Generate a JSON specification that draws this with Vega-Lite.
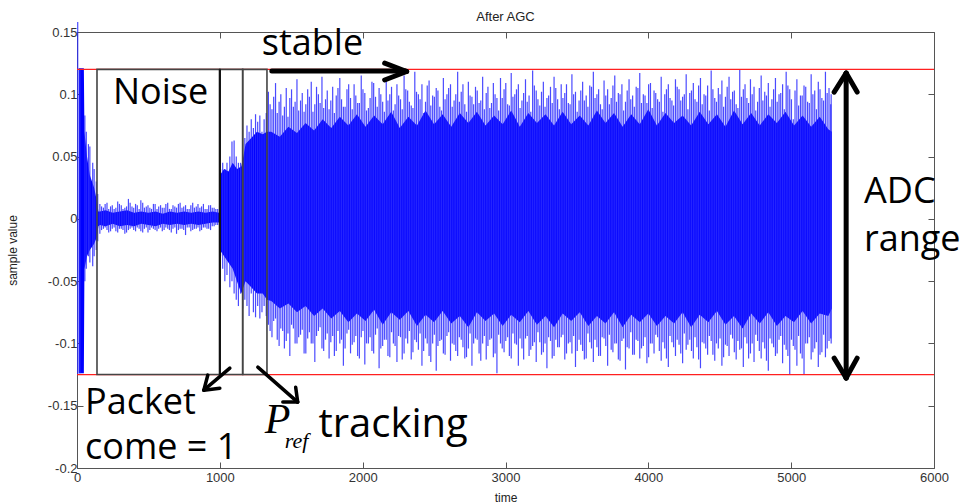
{
  "$schema": "https://vega.github.io/schema/vega-lite/v6.json",
  "width": 857,
  "height": 436,
  "autosize": {"type": "none"},
  "padding": {"left": 77, "top": 32, "right": 33, "bottom": 36},
  "background": "white",
  "title": {"text": "After AGC", "fontSize": 13, "font": "Liberation Sans", "fontWeight": "normal", "color": "#222222", "offset": -3},
  "config": {
    "view": {"stroke": null},
    "axis": {"grid": false, "labelFont": "Liberation Sans", "labelFontSize": 13, "labelColor": "#333333", "titleFont": "Liberation Sans", "titleFontSize": 12, "titleFontWeight": "normal", "titleColor": "#222222", "domainColor": "#555555", "tickColor": "#555555", "labelFlush": false, "labelOverlap": false}
  },
  "datasets": {
    "core": [
      {"t": 12, "hi": 0.121, "lo": -0.124}, {"t": 48, "hi": 0.121, "lo": -0.124},
      {"t": 52, "hi": 0.07, "lo": -0.04}, {"t": 70, "hi": 0.05, "lo": -0.03},
      {"t": 90, "hi": 0.035, "lo": -0.025}, {"t": 120, "hi": 0.025, "lo": -0.02},
      {"t": 138, "hi": 0.015, "lo": -0.015}, {"t": 150, "hi": 0.006, "lo": -0.006},
      {"t": 160, "hi": 0.006, "lo": -0.005}, {"t": 200, "hi": 0.007, "lo": -0.006},
      {"t": 250, "hi": 0.005, "lo": -0.004}, {"t": 300, "hi": 0.006, "lo": -0.006},
      {"t": 350, "hi": 0.007, "lo": -0.005}, {"t": 400, "hi": 0.005, "lo": -0.006},
      {"t": 450, "hi": 0.006, "lo": -0.004}, {"t": 500, "hi": 0.005, "lo": -0.005},
      {"t": 550, "hi": 0.006, "lo": -0.006}, {"t": 600, "hi": 0.004, "lo": -0.004},
      {"t": 650, "hi": 0.006, "lo": -0.005}, {"t": 700, "hi": 0.005, "lo": -0.004},
      {"t": 750, "hi": 0.006, "lo": -0.005}, {"t": 800, "hi": 0.005, "lo": -0.004},
      {"t": 850, "hi": 0.006, "lo": -0.005}, {"t": 900, "hi": 0.005, "lo": -0.004},
      {"t": 950, "hi": 0.006, "lo": -0.003}, {"t": 995, "hi": 0.005, "lo": -0.003},
      {"t": 1000, "hi": 0.035, "lo": -0.025}, {"t": 1030, "hi": 0.04, "lo": -0.03},
      {"t": 1060, "hi": 0.038, "lo": -0.035}, {"t": 1090, "hi": 0.045, "lo": -0.04},
      {"t": 1120, "hi": 0.04, "lo": -0.05}, {"t": 1150, "hi": 0.042, "lo": -0.06},
      {"t": 1165, "hi": 0.05, "lo": -0.055}, {"t": 1180, "hi": 0.06, "lo": -0.05},
      {"t": 1220, "hi": 0.065, "lo": -0.055}, {"t": 1260, "hi": 0.07, "lo": -0.06},
      {"t": 1300, "hi": 0.068, "lo": -0.06}, {"t": 1330, "hi": 0.07, "lo": -0.065},
      {"t": 1360, "hi": 0.07, "lo": -0.066}, {"t": 1420, "hi": 0.066, "lo": -0.072},
      {"t": 1480, "hi": 0.074, "lo": -0.068}, {"t": 1540, "hi": 0.069, "lo": -0.075},
      {"t": 1600, "hi": 0.077, "lo": -0.07}, {"t": 1660, "hi": 0.071, "lo": -0.078},
      {"t": 1720, "hi": 0.08, "lo": -0.072}, {"t": 1780, "hi": 0.073, "lo": -0.08},
      {"t": 1840, "hi": 0.082, "lo": -0.074}, {"t": 1900, "hi": 0.075, "lo": -0.083},
      {"t": 1960, "hi": 0.084, "lo": -0.076}, {"t": 2020, "hi": 0.074, "lo": -0.082},
      {"t": 2080, "hi": 0.083, "lo": -0.073}, {"t": 2140, "hi": 0.076, "lo": -0.085},
      {"t": 2200, "hi": 0.086, "lo": -0.075}, {"t": 2260, "hi": 0.073, "lo": -0.081},
      {"t": 2320, "hi": 0.082, "lo": -0.074}, {"t": 2380, "hi": 0.075, "lo": -0.086},
      {"t": 2440, "hi": 0.087, "lo": -0.077}, {"t": 2500, "hi": 0.076, "lo": -0.083},
      {"t": 2560, "hi": 0.084, "lo": -0.074}, {"t": 2620, "hi": 0.074, "lo": -0.084},
      {"t": 2680, "hi": 0.085, "lo": -0.078}, {"t": 2740, "hi": 0.077, "lo": -0.087},
      {"t": 2800, "hi": 0.086, "lo": -0.075}, {"t": 2860, "hi": 0.075, "lo": -0.082},
      {"t": 2920, "hi": 0.083, "lo": -0.076}, {"t": 2980, "hi": 0.076, "lo": -0.086},
      {"t": 3040, "hi": 0.087, "lo": -0.077}, {"t": 3100, "hi": 0.074, "lo": -0.083},
      {"t": 3160, "hi": 0.085, "lo": -0.074}, {"t": 3220, "hi": 0.077, "lo": -0.085},
      {"t": 3280, "hi": 0.084, "lo": -0.078}, {"t": 3340, "hi": 0.075, "lo": -0.087},
      {"t": 3400, "hi": 0.086, "lo": -0.076}, {"t": 3460, "hi": 0.076, "lo": -0.082},
      {"t": 3520, "hi": 0.083, "lo": -0.075}, {"t": 3580, "hi": 0.075, "lo": -0.086},
      {"t": 3640, "hi": 0.087, "lo": -0.078}, {"t": 3700, "hi": 0.077, "lo": -0.084},
      {"t": 3760, "hi": 0.085, "lo": -0.075}, {"t": 3820, "hi": 0.074, "lo": -0.087},
      {"t": 3880, "hi": 0.084, "lo": -0.077}, {"t": 3940, "hi": 0.076, "lo": -0.083},
      {"t": 4000, "hi": 0.088, "lo": -0.076}, {"t": 4060, "hi": 0.075, "lo": -0.086},
      {"t": 4120, "hi": 0.085, "lo": -0.078}, {"t": 4180, "hi": 0.077, "lo": -0.084},
      {"t": 4240, "hi": 0.083, "lo": -0.075}, {"t": 4300, "hi": 0.075, "lo": -0.087},
      {"t": 4360, "hi": 0.086, "lo": -0.077}, {"t": 4420, "hi": 0.076, "lo": -0.083},
      {"t": 4480, "hi": 0.084, "lo": -0.074}, {"t": 4540, "hi": 0.074, "lo": -0.085},
      {"t": 4600, "hi": 0.087, "lo": -0.078}, {"t": 4660, "hi": 0.076, "lo": -0.088},
      {"t": 4720, "hi": 0.085, "lo": -0.076}, {"t": 4780, "hi": 0.075, "lo": -0.084},
      {"t": 4840, "hi": 0.084, "lo": -0.075}, {"t": 4900, "hi": 0.077, "lo": -0.086},
      {"t": 4960, "hi": 0.086, "lo": -0.078}, {"t": 5020, "hi": 0.075, "lo": -0.083},
      {"t": 5080, "hi": 0.083, "lo": -0.074}, {"t": 5140, "hi": 0.074, "lo": -0.084},
      {"t": 5200, "hi": 0.082, "lo": -0.076}, {"t": 5260, "hi": 0.072, "lo": -0.078},
      {"t": 5285, "hi": 0.07, "lo": -0.072}
    ],
    "spikes": [
      {"t": 5, "hi": 0.158, "lo": -0.125}, {"t": 20, "hi": 0.121, "lo": -0.124},
      {"t": 55, "hi": 0.083, "lo": -0.05}, {"t": 65, "hi": 0.07, "lo": -0.04},
      {"t": 80, "hi": 0.06, "lo": -0.03}, {"t": 90, "hi": 0.058, "lo": -0.035},
      {"t": 110, "hi": 0.045, "lo": -0.038}, {"t": 120, "hi": 0.04, "lo": -0.03},
      {"t": 135, "hi": 0.03, "lo": -0.025}, {"t": 145, "hi": 0.02, "lo": -0.018},
      {"t": 160, "hi": 0.012, "lo": -0.012}, {"t": 185, "hi": 0.009, "lo": -0.008},
      {"t": 210, "hi": 0.013, "lo": -0.009}, {"t": 235, "hi": 0.01, "lo": -0.01},
      {"t": 260, "hi": 0.008, "lo": -0.007}, {"t": 285, "hi": 0.014, "lo": -0.011},
      {"t": 310, "hi": 0.011, "lo": -0.008}, {"t": 335, "hi": 0.009, "lo": -0.012},
      {"t": 360, "hi": 0.016, "lo": -0.009}, {"t": 385, "hi": 0.01, "lo": -0.007},
      {"t": 410, "hi": 0.012, "lo": -0.01}, {"t": 435, "hi": 0.008, "lo": -0.008},
      {"t": 460, "hi": 0.013, "lo": -0.011}, {"t": 485, "hi": 0.01, "lo": -0.007},
      {"t": 510, "hi": 0.009, "lo": -0.009}, {"t": 535, "hi": 0.012, "lo": -0.008},
      {"t": 560, "hi": 0.008, "lo": -0.01}, {"t": 585, "hi": 0.011, "lo": -0.007},
      {"t": 610, "hi": 0.009, "lo": -0.009}, {"t": 635, "hi": 0.013, "lo": -0.008},
      {"t": 660, "hi": 0.008, "lo": -0.011}, {"t": 685, "hi": 0.01, "lo": -0.007},
      {"t": 710, "hi": 0.012, "lo": -0.009}, {"t": 735, "hi": 0.009, "lo": -0.008},
      {"t": 760, "hi": 0.011, "lo": -0.013}, {"t": 785, "hi": 0.008, "lo": -0.007},
      {"t": 810, "hi": 0.013, "lo": -0.009}, {"t": 835, "hi": 0.01, "lo": -0.008},
      {"t": 860, "hi": 0.009, "lo": -0.01}, {"t": 885, "hi": 0.012, "lo": -0.007},
      {"t": 910, "hi": 0.008, "lo": -0.008}, {"t": 935, "hi": 0.011, "lo": -0.009},
      {"t": 960, "hi": 0.009, "lo": -0.006}, {"t": 985, "hi": 0.008, "lo": -0.005},
      {"t": 172, "hi": 0.01, "lo": -0.009}, {"t": 197, "hi": 0.012, "lo": -0.007},
      {"t": 222, "hi": 0.008, "lo": -0.011}, {"t": 247, "hi": 0.011, "lo": -0.008},
      {"t": 272, "hi": 0.009, "lo": -0.01}, {"t": 297, "hi": 0.012, "lo": -0.008},
      {"t": 322, "hi": 0.008, "lo": -0.009}, {"t": 347, "hi": 0.01, "lo": -0.011},
      {"t": 372, "hi": 0.013, "lo": -0.008}, {"t": 397, "hi": 0.009, "lo": -0.009},
      {"t": 422, "hi": 0.011, "lo": -0.007}, {"t": 447, "hi": 0.015, "lo": -0.01},
      {"t": 472, "hi": 0.009, "lo": -0.008}, {"t": 497, "hi": 0.011, "lo": -0.011},
      {"t": 522, "hi": 0.008, "lo": -0.007}, {"t": 547, "hi": 0.012, "lo": -0.009},
      {"t": 572, "hi": 0.01, "lo": -0.008}, {"t": 597, "hi": 0.009, "lo": -0.01},
      {"t": 622, "hi": 0.012, "lo": -0.007}, {"t": 647, "hi": 0.008, "lo": -0.009},
      {"t": 672, "hi": 0.011, "lo": -0.008}, {"t": 697, "hi": 0.009, "lo": -0.012},
      {"t": 722, "hi": 0.013, "lo": -0.008}, {"t": 747, "hi": 0.01, "lo": -0.009},
      {"t": 772, "hi": 0.008, "lo": -0.007}, {"t": 797, "hi": 0.011, "lo": -0.01},
      {"t": 822, "hi": 0.009, "lo": -0.008}, {"t": 847, "hi": 0.012, "lo": -0.007},
      {"t": 872, "hi": 0.01, "lo": -0.009}, {"t": 897, "hi": 0.008, "lo": -0.007},
      {"t": 922, "hi": 0.011, "lo": -0.008}, {"t": 947, "hi": 0.009, "lo": -0.006},
      {"t": 972, "hi": 0.008, "lo": -0.005},
      {"t": 1005, "hi": 0.04, "lo": -0.03}, {"t": 1020, "hi": 0.045, "lo": -0.04},
      {"t": 1035, "hi": 0.04, "lo": -0.05}, {"t": 1050, "hi": 0.045, "lo": -0.045},
      {"t": 1070, "hi": 0.05, "lo": -0.055}, {"t": 1085, "hi": 0.062, "lo": -0.05},
      {"t": 1100, "hi": 0.063, "lo": -0.06}, {"t": 1115, "hi": 0.05, "lo": -0.065},
      {"t": 1130, "hi": 0.045, "lo": -0.07}, {"t": 1145, "hi": 0.045, "lo": -0.06},
      {"t": 1160, "hi": 0.05, "lo": -0.072}, {"t": 1175, "hi": 0.065, "lo": -0.065},
      {"t": 1190, "hi": 0.075, "lo": -0.07}, {"t": 1205, "hi": 0.07, "lo": -0.078},
      {"t": 1220, "hi": 0.08, "lo": -0.06}, {"t": 1235, "hi": 0.073, "lo": -0.075},
      {"t": 1250, "hi": 0.084, "lo": -0.079}, {"t": 1265, "hi": 0.078, "lo": -0.07},
      {"t": 1280, "hi": 0.083, "lo": -0.08}, {"t": 1295, "hi": 0.07, "lo": -0.075},
      {"t": 1310, "hi": 0.08, "lo": -0.07}, {"t": 1325, "hi": 0.085, "lo": -0.078},
      {"t": 1340, "hi": 0.102, "lo": -0.085}, {"t": 1365, "hi": 0.088, "lo": -0.095},
      {"t": 1390, "hi": 0.109, "lo": -0.08}, {"t": 1415, "hi": 0.094, "lo": -0.102},
      {"t": 1440, "hi": 0.083, "lo": -0.09}, {"t": 1465, "hi": 0.105, "lo": -0.098},
      {"t": 1490, "hi": 0.097, "lo": -0.11}, {"t": 1515, "hi": 0.09, "lo": -0.088},
      {"t": 1540, "hi": 0.112, "lo": -0.1}, {"t": 1565, "hi": 0.095, "lo": -0.093},
      {"t": 1590, "hi": 0.086, "lo": -0.108}, {"t": 1615, "hi": 0.104, "lo": -0.096},
      {"t": 1640, "hi": 0.11, "lo": -0.1}, {"t": 1665, "hi": 0.092, "lo": -0.115},
      {"t": 1690, "hi": 0.1, "lo": -0.09}, {"t": 1715, "hi": 0.114, "lo": -0.104},
      {"t": 1740, "hi": 0.096, "lo": -0.097}, {"t": 1765, "hi": 0.088, "lo": -0.112},
      {"t": 1790, "hi": 0.106, "lo": -0.094}, {"t": 1815, "hi": 0.099, "lo": -0.106},
      {"t": 1840, "hi": 0.113, "lo": -0.1}, {"t": 1865, "hi": 0.09, "lo": -0.118},
      {"t": 1890, "hi": 0.104, "lo": -0.092}, {"t": 1915, "hi": 0.097, "lo": -0.108},
      {"t": 1940, "hi": 0.108, "lo": -0.099}, {"t": 1965, "hi": 0.093, "lo": -0.11},
      {"t": 1990, "hi": 0.115, "lo": -0.095}, {"t": 2015, "hi": 0.101, "lo": -0.117},
      {"t": 2040, "hi": 0.089, "lo": -0.1}, {"t": 2065, "hi": 0.11, "lo": -0.106},
      {"t": 2090, "hi": 0.098, "lo": -0.093}, {"t": 2115, "hi": 0.105, "lo": -0.12},
      {"t": 2140, "hi": 0.094, "lo": -0.102}, {"t": 2165, "hi": 0.112, "lo": -0.097},
      {"t": 2190, "hi": 0.1, "lo": -0.111}, {"t": 2215, "hi": 0.087, "lo": -0.1},
      {"t": 2240, "hi": 0.108, "lo": -0.115}, {"t": 2265, "hi": 0.096, "lo": -0.095},
      {"t": 2290, "hi": 0.115, "lo": -0.108}, {"t": 2315, "hi": 0.103, "lo": -0.1},
      {"t": 2340, "hi": 0.091, "lo": -0.113}, {"t": 2365, "hi": 0.118, "lo": -0.097},
      {"t": 2390, "hi": 0.1, "lo": -0.105}, {"t": 2415, "hi": 0.108, "lo": -0.118},
      {"t": 2440, "hi": 0.094, "lo": -0.096}, {"t": 2465, "hi": 0.111, "lo": -0.11},
      {"t": 2490, "hi": 0.099, "lo": -0.1}, {"t": 2515, "hi": 0.105, "lo": -0.122},
      {"t": 2540, "hi": 0.09, "lo": -0.098}, {"t": 2565, "hi": 0.113, "lo": -0.108},
      {"t": 2590, "hi": 0.1, "lo": -0.094}, {"t": 2615, "hi": 0.108, "lo": -0.114},
      {"t": 2640, "hi": 0.095, "lo": -0.101}, {"t": 2665, "hi": 0.118, "lo": -0.11},
      {"t": 2690, "hi": 0.102, "lo": -0.097}, {"t": 2715, "hi": 0.092, "lo": -0.112},
      {"t": 2740, "hi": 0.11, "lo": -0.104}, {"t": 2765, "hi": 0.098, "lo": -0.118},
      {"t": 2790, "hi": 0.106, "lo": -0.096}, {"t": 2815, "hi": 0.093, "lo": -0.108},
      {"t": 2840, "hi": 0.114, "lo": -0.1}, {"t": 2865, "hi": 0.101, "lo": -0.113},
      {"t": 2890, "hi": 0.089, "lo": -0.097}, {"t": 2915, "hi": 0.109, "lo": -0.111},
      {"t": 2940, "hi": 0.097, "lo": -0.124}, {"t": 2965, "hi": 0.113, "lo": -0.1},
      {"t": 2990, "hi": 0.104, "lo": -0.107}, {"t": 3015, "hi": 0.092, "lo": -0.095},
      {"t": 3040, "hi": 0.117, "lo": -0.112}, {"t": 3065, "hi": 0.1, "lo": -0.1},
      {"t": 3090, "hi": 0.108, "lo": -0.118}, {"t": 3115, "hi": 0.095, "lo": -0.104},
      {"t": 3140, "hi": 0.112, "lo": -0.096}, {"t": 3165, "hi": 0.099, "lo": -0.11},
      {"t": 3190, "hi": 0.119, "lo": -0.102}, {"t": 3215, "hi": 0.103, "lo": -0.115},
      {"t": 3240, "hi": 0.091, "lo": -0.099}, {"t": 3265, "hi": 0.11, "lo": -0.107},
      {"t": 3290, "hi": 0.097, "lo": -0.12}, {"t": 3315, "hi": 0.106, "lo": -0.098},
      {"t": 3340, "hi": 0.114, "lo": -0.11}, {"t": 3365, "hi": 0.096, "lo": -0.103},
      {"t": 3390, "hi": 0.108, "lo": -0.095}, {"t": 3415, "hi": 0.101, "lo": -0.113},
      {"t": 3440, "hi": 0.093, "lo": -0.1}, {"t": 3465, "hi": 0.116, "lo": -0.108},
      {"t": 3490, "hi": 0.102, "lo": -0.119}, {"t": 3515, "hi": 0.095, "lo": -0.097},
      {"t": 3540, "hi": 0.11, "lo": -0.106}, {"t": 3565, "hi": 0.099, "lo": -0.112},
      {"t": 3590, "hi": 0.107, "lo": -0.099}, {"t": 3615, "hi": 0.118, "lo": -0.115},
      {"t": 3640, "hi": 0.1, "lo": -0.103}, {"t": 3665, "hi": 0.092, "lo": -0.11},
      {"t": 3690, "hi": 0.111, "lo": -0.096}, {"t": 3715, "hi": 0.104, "lo": -0.118},
      {"t": 3740, "hi": 0.097, "lo": -0.105}, {"t": 3765, "hi": 0.115, "lo": -0.1},
      {"t": 3790, "hi": 0.101, "lo": -0.113}, {"t": 3815, "hi": 0.108, "lo": -0.098},
      {"t": 3840, "hi": 0.094, "lo": -0.121}, {"t": 3865, "hi": 0.112, "lo": -0.104},
      {"t": 3890, "hi": 0.099, "lo": -0.109}, {"t": 3915, "hi": 0.106, "lo": -0.097},
      {"t": 3940, "hi": 0.117, "lo": -0.112}, {"t": 3965, "hi": 0.1, "lo": -0.102},
      {"t": 3990, "hi": 0.093, "lo": -0.116}, {"t": 4015, "hi": 0.109, "lo": -0.1},
      {"t": 4040, "hi": 0.103, "lo": -0.108}, {"t": 4065, "hi": 0.096, "lo": -0.095},
      {"t": 4090, "hi": 0.114, "lo": -0.114}, {"t": 4115, "hi": 0.1, "lo": -0.104},
      {"t": 4140, "hi": 0.108, "lo": -0.119}, {"t": 4165, "hi": 0.095, "lo": -0.099},
      {"t": 4190, "hi": 0.112, "lo": -0.11}, {"t": 4215, "hi": 0.104, "lo": -0.101},
      {"t": 4240, "hi": 0.098, "lo": -0.116}, {"t": 4265, "hi": 0.116, "lo": -0.105},
      {"t": 4290, "hi": 0.101, "lo": -0.097}, {"t": 4315, "hi": 0.109, "lo": -0.112},
      {"t": 4340, "hi": 0.094, "lo": -0.103}, {"t": 4365, "hi": 0.113, "lo": -0.12},
      {"t": 4390, "hi": 0.1, "lo": -0.1}, {"t": 4415, "hi": 0.107, "lo": -0.109},
      {"t": 4440, "hi": 0.119, "lo": -0.098}, {"t": 4465, "hi": 0.097, "lo": -0.114},
      {"t": 4490, "hi": 0.105, "lo": -0.104}, {"t": 4515, "hi": 0.111, "lo": -0.118},
      {"t": 4540, "hi": 0.098, "lo": -0.101}, {"t": 4565, "hi": 0.114, "lo": -0.11},
      {"t": 4590, "hi": 0.102, "lo": -0.096}, {"t": 4615, "hi": 0.092, "lo": -0.113},
      {"t": 4640, "hi": 0.12, "lo": -0.105}, {"t": 4665, "hi": 0.104, "lo": -0.119},
      {"t": 4690, "hi": 0.097, "lo": -0.1}, {"t": 4715, "hi": 0.112, "lo": -0.108},
      {"t": 4740, "hi": 0.106, "lo": -0.115}, {"t": 4765, "hi": 0.094, "lo": -0.098},
      {"t": 4790, "hi": 0.115, "lo": -0.112}, {"t": 4815, "hi": 0.102, "lo": -0.104},
      {"t": 4840, "hi": 0.109, "lo": -0.122}, {"t": 4865, "hi": 0.096, "lo": -0.1},
      {"t": 4890, "hi": 0.113, "lo": -0.11}, {"t": 4915, "hi": 0.1, "lo": -0.097},
      {"t": 4940, "hi": 0.108, "lo": -0.116}, {"t": 4965, "hi": 0.118, "lo": -0.105},
      {"t": 4990, "hi": 0.104, "lo": -0.125}, {"t": 5015, "hi": 0.08, "lo": -0.102},
      {"t": 5040, "hi": 0.112, "lo": -0.118}, {"t": 5065, "hi": 0.099, "lo": -0.108},
      {"t": 5090, "hi": 0.107, "lo": -0.125}, {"t": 5115, "hi": 0.094, "lo": -0.1},
      {"t": 5140, "hi": 0.116, "lo": -0.113}, {"t": 5165, "hi": 0.103, "lo": -0.104},
      {"t": 5190, "hi": 0.11, "lo": -0.119}, {"t": 5215, "hi": 0.097, "lo": -0.107},
      {"t": 5240, "hi": 0.118, "lo": -0.111}, {"t": 5265, "hi": 0.105, "lo": -0.098},
      {"t": 5280, "hi": 0.1, "lo": -0.1},
      {"t": 1352, "hi": 0.092, "lo": -0.09}, {"t": 1377, "hi": 0.098, "lo": -0.082},
      {"t": 1402, "hi": 0.085, "lo": -0.097}, {"t": 1427, "hi": 0.1, "lo": -0.088},
      {"t": 1452, "hi": 0.09, "lo": -0.104}, {"t": 1477, "hi": 0.082, "lo": -0.092},
      {"t": 1502, "hi": 0.104, "lo": -0.085}, {"t": 1527, "hi": 0.094, "lo": -0.1},
      {"t": 1552, "hi": 0.087, "lo": -0.095}, {"t": 1577, "hi": 0.101, "lo": -0.089},
      {"t": 1602, "hi": 0.092, "lo": -0.108}, {"t": 1627, "hi": 0.098, "lo": -0.091},
      {"t": 1652, "hi": 0.086, "lo": -0.1}, {"t": 1677, "hi": 0.106, "lo": -0.094},
      {"t": 1702, "hi": 0.093, "lo": -0.087}, {"t": 1727, "hi": 0.089, "lo": -0.106},
      {"t": 1752, "hi": 0.103, "lo": -0.092}, {"t": 1777, "hi": 0.095, "lo": -0.099},
      {"t": 1802, "hi": 0.085, "lo": -0.11}, {"t": 1827, "hi": 0.105, "lo": -0.09},
      {"t": 1852, "hi": 0.096, "lo": -0.097}, {"t": 1877, "hi": 0.09, "lo": -0.104},
      {"t": 1902, "hi": 0.108, "lo": -0.089}, {"t": 1927, "hi": 0.088, "lo": -0.101},
      {"t": 1952, "hi": 0.099, "lo": -0.094}, {"t": 1977, "hi": 0.093, "lo": -0.112},
      {"t": 2002, "hi": 0.104, "lo": -0.09}, {"t": 2027, "hi": 0.087, "lo": -0.1},
      {"t": 2052, "hi": 0.097, "lo": -0.095}, {"t": 2077, "hi": 0.109, "lo": -0.108},
      {"t": 2102, "hi": 0.09, "lo": -0.088}, {"t": 2127, "hi": 0.1, "lo": -0.104},
      {"t": 2152, "hi": 0.086, "lo": -0.097}, {"t": 2177, "hi": 0.095, "lo": -0.11},
      {"t": 2202, "hi": 0.106, "lo": -0.091}, {"t": 2227, "hi": 0.092, "lo": -0.102},
      {"t": 2252, "hi": 0.099, "lo": -0.094}, {"t": 2277, "hi": 0.088, "lo": -0.113},
      {"t": 2302, "hi": 0.104, "lo": -0.096}, {"t": 2327, "hi": 0.094, "lo": -0.09},
      {"t": 2352, "hi": 0.089, "lo": -0.107}, {"t": 2377, "hi": 0.102, "lo": -0.099},
      {"t": 2402, "hi": 0.096, "lo": -0.092}, {"t": 2427, "hi": 0.085, "lo": -0.106},
      {"t": 2452, "hi": 0.107, "lo": -0.1}, {"t": 2477, "hi": 0.091, "lo": -0.115},
      {"t": 2502, "hi": 0.098, "lo": -0.093}, {"t": 2527, "hi": 0.103, "lo": -0.102},
      {"t": 2552, "hi": 0.087, "lo": -0.097}, {"t": 2577, "hi": 0.096, "lo": -0.109},
      {"t": 2602, "hi": 0.105, "lo": -0.091}, {"t": 2627, "hi": 0.09, "lo": -0.1},
      {"t": 2652, "hi": 0.1, "lo": -0.106}, {"t": 2677, "hi": 0.094, "lo": -0.095},
      {"t": 2702, "hi": 0.108, "lo": -0.103}, {"t": 2727, "hi": 0.086, "lo": -0.111},
      {"t": 2752, "hi": 0.099, "lo": -0.092}, {"t": 2777, "hi": 0.092, "lo": -0.1},
      {"t": 2802, "hi": 0.103, "lo": -0.097}, {"t": 2827, "hi": 0.095, "lo": -0.114},
      {"t": 2852, "hi": 0.088, "lo": -0.094}, {"t": 2877, "hi": 0.106, "lo": -0.102},
      {"t": 2902, "hi": 0.093, "lo": -0.096}, {"t": 2927, "hi": 0.1, "lo": -0.108},
      {"t": 2952, "hi": 0.087, "lo": -0.093}, {"t": 2977, "hi": 0.097, "lo": -0.104},
      {"t": 3002, "hi": 0.109, "lo": -0.098}, {"t": 3027, "hi": 0.091, "lo": -0.11},
      {"t": 3052, "hi": 0.098, "lo": -0.092}, {"t": 3077, "hi": 0.104, "lo": -0.101},
      {"t": 3102, "hi": 0.089, "lo": -0.096}, {"t": 3127, "hi": 0.101, "lo": -0.113},
      {"t": 3152, "hi": 0.094, "lo": -0.094}, {"t": 3177, "hi": 0.086, "lo": -0.105},
      {"t": 3202, "hi": 0.107, "lo": -0.099}, {"t": 3227, "hi": 0.096, "lo": -0.091},
      {"t": 3252, "hi": 0.102, "lo": -0.109}, {"t": 3277, "hi": 0.09, "lo": -0.1},
      {"t": 3302, "hi": 0.099, "lo": -0.095}, {"t": 3327, "hi": 0.093, "lo": -0.112},
      {"t": 3352, "hi": 0.105, "lo": -0.097}, {"t": 3377, "hi": 0.088, "lo": -0.103},
      {"t": 3402, "hi": 0.097, "lo": -0.093}, {"t": 3427, "hi": 0.108, "lo": -0.108},
      {"t": 3452, "hi": 0.092, "lo": -0.099}, {"t": 3477, "hi": 0.1, "lo": -0.094},
      {"t": 3502, "hi": 0.086, "lo": -0.106}, {"t": 3527, "hi": 0.103, "lo": -0.101},
      {"t": 3552, "hi": 0.095, "lo": -0.113}, {"t": 3577, "hi": 0.09, "lo": -0.092},
      {"t": 3602, "hi": 0.106, "lo": -0.104}, {"t": 3627, "hi": 0.097, "lo": -0.097},
      {"t": 3652, "hi": 0.104, "lo": -0.11}, {"t": 3677, "hi": 0.088, "lo": -0.095},
      {"t": 3702, "hi": 0.099, "lo": -0.102}, {"t": 3727, "hi": 0.092, "lo": -0.093},
      {"t": 3752, "hi": 0.107, "lo": -0.107}, {"t": 3777, "hi": 0.094, "lo": -0.1},
      {"t": 3802, "hi": 0.1, "lo": -0.114}, {"t": 3827, "hi": 0.087, "lo": -0.096},
      {"t": 3852, "hi": 0.103, "lo": -0.103}, {"t": 3877, "hi": 0.096, "lo": -0.091},
      {"t": 3902, "hi": 0.09, "lo": -0.109}, {"t": 3927, "hi": 0.105, "lo": -0.098},
      {"t": 3952, "hi": 0.093, "lo": -0.104}, {"t": 3977, "hi": 0.099, "lo": -0.095},
      {"t": 4002, "hi": 0.108, "lo": -0.111}, {"t": 4027, "hi": 0.089, "lo": -0.1},
      {"t": 4052, "hi": 0.101, "lo": -0.093}, {"t": 4077, "hi": 0.094, "lo": -0.106},
      {"t": 4102, "hi": 0.086, "lo": -0.099}, {"t": 4127, "hi": 0.104, "lo": -0.112},
      {"t": 4152, "hi": 0.097, "lo": -0.094}, {"t": 4177, "hi": 0.091, "lo": -0.103},
      {"t": 4202, "hi": 0.106, "lo": -0.097}, {"t": 4227, "hi": 0.095, "lo": -0.108},
      {"t": 4252, "hi": 0.1, "lo": -0.092}, {"t": 4277, "hi": 0.088, "lo": -0.101},
      {"t": 4302, "hi": 0.103, "lo": -0.106}, {"t": 4327, "hi": 0.096, "lo": -0.095},
      {"t": 4352, "hi": 0.107, "lo": -0.113}, {"t": 4377, "hi": 0.092, "lo": -0.099},
      {"t": 4402, "hi": 0.099, "lo": -0.104}, {"t": 4427, "hi": 0.087, "lo": -0.094},
      {"t": 4452, "hi": 0.104, "lo": -0.109}, {"t": 4477, "hi": 0.094, "lo": -0.1},
      {"t": 4502, "hi": 0.1, "lo": -0.096}, {"t": 4527, "hi": 0.09, "lo": -0.111},
      {"t": 4552, "hi": 0.106, "lo": -0.102}, {"t": 4577, "hi": 0.096, "lo": -0.093},
      {"t": 4602, "hi": 0.103, "lo": -0.107}, {"t": 4627, "hi": 0.089, "lo": -0.098},
      {"t": 4652, "hi": 0.098, "lo": -0.104}, {"t": 4677, "hi": 0.108, "lo": -0.095},
      {"t": 4702, "hi": 0.093, "lo": -0.112}, {"t": 4727, "hi": 0.1, "lo": -0.1},
      {"t": 4752, "hi": 0.087, "lo": -0.093}, {"t": 4777, "hi": 0.105, "lo": -0.106},
      {"t": 4802, "hi": 0.095, "lo": -0.099}, {"t": 4827, "hi": 0.099, "lo": -0.114},
      {"t": 4852, "hi": 0.09, "lo": -0.096}, {"t": 4877, "hi": 0.104, "lo": -0.103},
      {"t": 4902, "hi": 0.094, "lo": -0.108}, {"t": 4927, "hi": 0.101, "lo": -0.094},
      {"t": 4952, "hi": 0.088, "lo": -0.101}, {"t": 4977, "hi": 0.107, "lo": -0.11},
      {"t": 5002, "hi": 0.096, "lo": -0.097}, {"t": 5027, "hi": 0.103, "lo": -0.105},
      {"t": 5052, "hi": 0.091, "lo": -0.094}, {"t": 5077, "hi": 0.099, "lo": -0.112},
      {"t": 5102, "hi": 0.106, "lo": -0.1}, {"t": 5127, "hi": 0.093, "lo": -0.095},
      {"t": 5152, "hi": 0.1, "lo": -0.107}, {"t": 5177, "hi": 0.088, "lo": -0.099},
      {"t": 5202, "hi": 0.104, "lo": -0.109}, {"t": 5227, "hi": 0.095, "lo": -0.093},
      {"t": 5252, "hi": 0.101, "lo": -0.104}, {"t": 5277, "hi": 0.092, "lo": -0.096}
    ],
    "limits": [{"v": 0.12}, {"v": -0.125}],
    "boxes": [
      {"t": 140, "t2": 1000, "v": 0.12, "v2": -0.125},
      {"t": 1000, "t2": 1160, "v": 0.12, "v2": -0.125},
      {"t": 1160, "t2": 1330, "v": 0.12, "v2": -0.125}
    ],
    "divider": [{"t": 1000, "v": 0.12, "v2": -0.125}],
    "bigArrows": [
      {"t": 1364, "v": 0.1187, "t2": 2300, "v2": 0.1187},
      {"t": 2154, "v": 0.125, "t2": 2308, "v2": 0.1183},
      {"t": 2154, "v": 0.1115, "t2": 2308, "v2": 0.1183},
      {"t": 5385, "v": 0.117, "t2": 5385, "v2": -0.1278},
      {"t": 5301, "v": 0.1018, "t2": 5385, "v2": 0.117},
      {"t": 5462, "v": 0.1018, "t2": 5385, "v2": 0.117},
      {"t": 5301, "v": -0.1118, "t2": 5385, "v2": -0.1278},
      {"t": 5462, "v": -0.1118, "t2": 5385, "v2": -0.1278}
    ],
    "smallArrows": [
      {"t": 1070, "v": -0.1198, "t2": 888, "v2": -0.1375},
      {"t": 916, "v": -0.1254, "t2": 888, "v2": -0.1375},
      {"t": 1000, "v": -0.1359, "t2": 888, "v2": -0.1375},
      {"t": 1266, "v": -0.119, "t2": 1545, "v2": -0.1471},
      {"t": 1531, "v": -0.1351, "t2": 1545, "v2": -0.1471},
      {"t": 1441, "v": -0.1471, "t2": 1545, "v2": -0.1471}
    ],
    "notes": [
      {"t": 252, "v": 0.101, "label": "Noise"},
      {"t": 1294, "v": 0.14, "label": "stable"},
      {"t": 5510, "v": 0.0215, "label": "ADC"},
      {"t": 5510, "v": -0.017, "label": "range"},
      {"t": 56, "v": -0.148, "label": "Packet"},
      {"t": 56, "v": -0.184, "label": "come = 1"}
    ],
    "tracking": [{"t": 1690, "v": -0.1656, "label": "tracking"}],
    "pMain": [{"t": 1315, "v": -0.1616, "label": "P"}],
    "pSub": [{"t": 1454, "v": -0.178, "label": "ref"}]
  },
  "resolve": {"axis": {"x": "independent", "y": "independent"}},
  "layer": [
    {
      "data": {"name": "core"},
      "mark": {"type": "area", "color": "#0000ff", "interpolate": "linear"},
      "encoding": {
        "x": {"field": "t", "type": "quantitative", "scale": {"domain": [0, 6000], "nice": false, "zero": false},
              "axis": {"orient": "bottom", "values": [0, 1000, 2000, 3000, 4000, 5000, 6000], "format": "d", "tickSize": -6, "labelPadding": 9, "title": "time", "titlePadding": 8}},
        "y": {"field": "hi", "type": "quantitative", "scale": {"domain": [-0.2, 0.15], "nice": false, "zero": false},
              "axis": {"orient": "left", "values": [-0.2, -0.15, -0.1, -0.05, 0, 0.05, 0.1, 0.15], "labelExpr": "'' + round(datum.value*100)/100", "tickSize": -6, "labelPadding": 6, "title": "sample value", "titlePadding": 28}},
        "y2": {"field": "lo"}
      }
    },
    {
      "data": {"name": "spikes"},
      "mark": {"type": "rule", "color": "#2a2aff", "strokeWidth": 1.2, "opacity": 0.85},
      "encoding": {
        "x": {"field": "t", "type": "quantitative", "axis": {"orient": "top", "values": [0, 1000, 2000, 3000, 4000, 5000, 6000], "tickSize": -6, "labels": false, "title": null}},
        "y": {"field": "hi", "type": "quantitative", "axis": {"orient": "right", "values": [-0.2, -0.15, -0.1, -0.05, 0, 0.05, 0.1, 0.15], "tickSize": -6, "labels": false, "title": null}},
        "y2": {"field": "lo"}
      }
    },
    {
      "data": {"name": "limits"},
      "mark": {"type": "rule", "color": "#ff2020", "strokeWidth": 1.2},
      "encoding": {"y": {"field": "v", "type": "quantitative", "axis": null}}
    },
    {
      "data": {"name": "boxes"},
      "mark": {"type": "rect", "fillOpacity": 0, "stroke": "#444444", "strokeWidth": 1.6},
      "encoding": {
        "x": {"field": "t", "type": "quantitative", "axis": null},
        "x2": {"field": "t2"},
        "y": {"field": "v", "type": "quantitative", "axis": null},
        "y2": {"field": "v2"}
      }
    },
    {
      "data": {"name": "divider"},
      "mark": {"type": "rule", "color": "#111111", "strokeWidth": 2.2},
      "encoding": {
        "x": {"field": "t", "type": "quantitative", "axis": null},
        "y": {"field": "v", "type": "quantitative", "axis": null},
        "y2": {"field": "v2"}
      }
    },
    {
      "data": {"name": "bigArrows"},
      "mark": {"type": "rule", "color": "#000000", "strokeWidth": 5, "strokeCap": "round"},
      "encoding": {
        "x": {"field": "t", "type": "quantitative", "axis": null},
        "x2": {"field": "t2"},
        "y": {"field": "v", "type": "quantitative", "axis": null},
        "y2": {"field": "v2"}
      }
    },
    {
      "data": {"name": "smallArrows"},
      "mark": {"type": "rule", "color": "#000000", "strokeWidth": 3.5, "strokeCap": "round"},
      "encoding": {
        "x": {"field": "t", "type": "quantitative", "axis": null},
        "x2": {"field": "t2"},
        "y": {"field": "v", "type": "quantitative", "axis": null},
        "y2": {"field": "v2"}
      }
    },
    {
      "data": {"name": "notes"},
      "mark": {"type": "text", "font": "Open Sans", "fontSize": 36, "align": "left", "baseline": "middle", "color": "#000000"},
      "encoding": {
        "x": {"field": "t", "type": "quantitative", "axis": null},
        "y": {"field": "v", "type": "quantitative", "axis": null},
        "text": {"field": "label"}
      }
    },
    {
      "data": {"name": "tracking"},
      "mark": {"type": "text", "font": "Open Sans", "fontSize": 40, "align": "left", "baseline": "middle", "color": "#000000"},
      "encoding": {
        "x": {"field": "t", "type": "quantitative", "axis": null},
        "y": {"field": "v", "type": "quantitative", "axis": null},
        "text": {"field": "label"}
      }
    },
    {
      "data": {"name": "pMain"},
      "mark": {"type": "text", "font": "Liberation Serif", "fontStyle": "italic", "fontSize": 42, "align": "left", "baseline": "middle", "color": "#000000"},
      "encoding": {
        "x": {"field": "t", "type": "quantitative", "axis": null},
        "y": {"field": "v", "type": "quantitative", "axis": null},
        "text": {"field": "label"}
      }
    },
    {
      "data": {"name": "pSub"},
      "mark": {"type": "text", "font": "Liberation Serif", "fontStyle": "italic", "fontSize": 22, "align": "left", "baseline": "middle", "color": "#000000"},
      "encoding": {
        "x": {"field": "t", "type": "quantitative", "axis": null},
        "y": {"field": "v", "type": "quantitative", "axis": null},
        "text": {"field": "label"}
      }
    }
  ]
}
